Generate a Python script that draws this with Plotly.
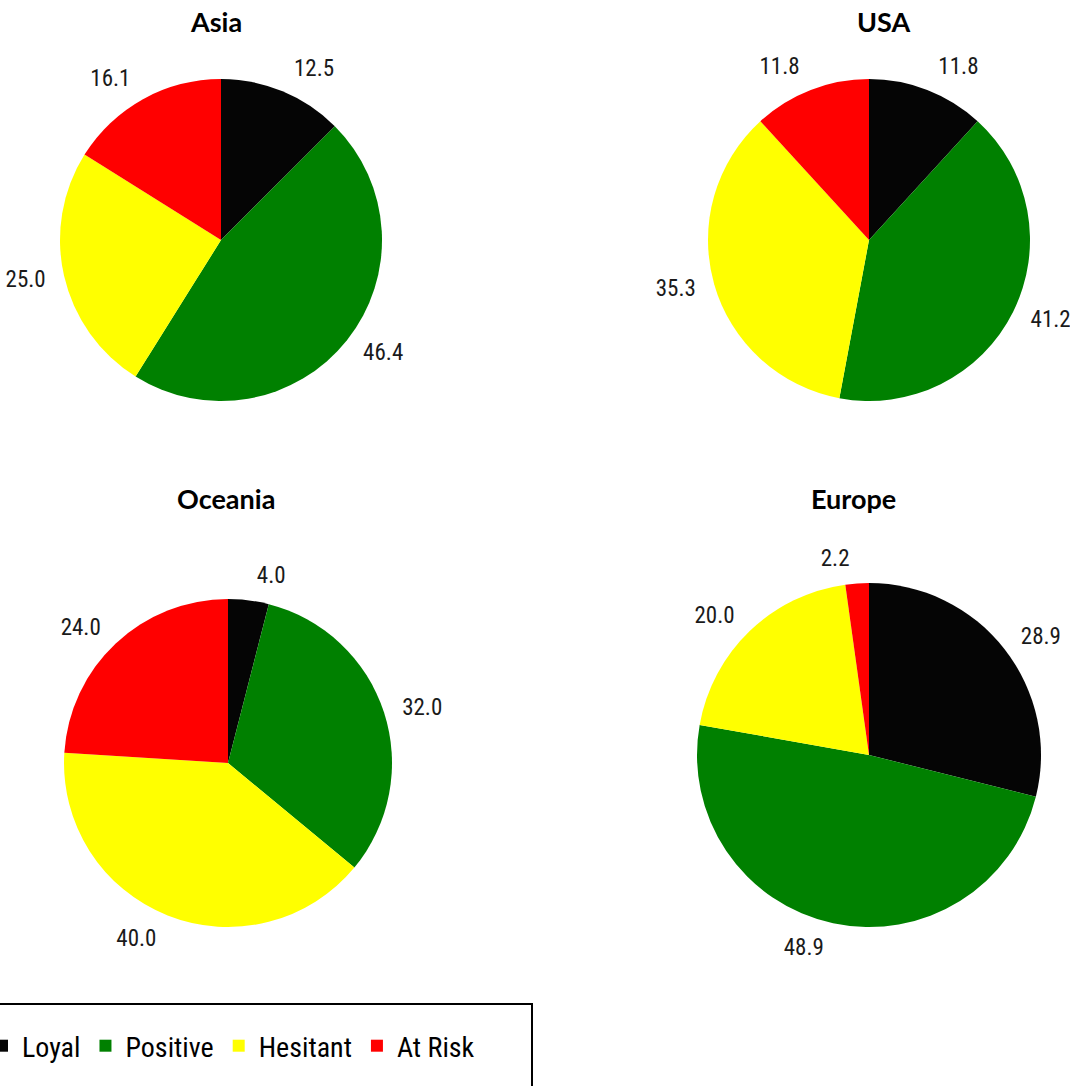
import plotly.graph_objects as go

categories = ["Loyal", "Positive", "Hesitant", "At Risk"]
regions = ["Asia", "USA", "Oceania", "Europe"]
asia = [12.5, 46.4, 25.0, 16.1]
usa = [11.8, 41.2, 35.3, 11.8]
oceania = [4.0, 32.0, 40.0, 24.0]
europe = [28.9, 48.9, 20.0, 2.2]
series = [asia, usa, oceania, europe]
colors = ["#050505", "#008000", "#FFFF00", "#FF0000"]

W, H = 1070, 1086
# pie centre (px) and radius (px), title position (px)
geom = {
    "Asia": (221, 240, 161, 216, 21),
    "USA": (869, 240, 161, 883, 21),
    "Oceania": (228, 763, 164, 226, 498),
    "Europe": (869, 755, 172, 853, 498),
}
LABEL_GAP = 12  # extra radial distance of the value labels

LABEL_FONT = "Liberation Sans Narrow, Arial Narrow, Roboto Condensed, Roboto, sans-serif"
TITLE_FONT = "Lato, Open Sans, sans-serif"


def dom(cx, cy, r):
    return dict(x=[(cx - r) / W, (cx + r) / W], y=[1 - (cy + r) / H, 1 - (cy - r) / H])


fig = go.Figure()
annotations = []
for i, (name, vals) in enumerate(zip(regions, series)):
    cx, cy, r, tx, ty = geom[name]
    # coloured pie
    fig.add_trace(go.Pie(
        labels=categories, values=vals, sort=False,
        direction="clockwise", rotation=0,
        marker=dict(colors=colors, line=dict(width=0)),
        textinfo="none",
        hovertemplate="%{label}: %{value:.1f}<extra>" + name + "</extra>",
        showlegend=(i == 0),
        domain=dom(cx, cy, r),
    ))
    # transparent companion pie carrying the outside value labels
    fig.add_trace(go.Pie(
        labels=categories, values=vals, sort=False,
        direction="clockwise", rotation=0,
        marker=dict(colors=["rgba(0,0,0,0)"] * len(vals), line=dict(width=0)),
        textposition="outside",
        texttemplate="%{value:.1f}",
        textfont=dict(family=LABEL_FONT, size=23, color="#1a1a1a"),
        hoverinfo="skip",
        showlegend=False,
        domain=dom(cx, cy, r + LABEL_GAP),
    ))
    annotations.append(dict(
        text="<b>" + name + "</b>", x=tx / W, y=1 - ty / H, xref="paper", yref="paper",
        showarrow=False, xanchor="center", yanchor="middle",
        font=dict(family=TITLE_FONT, size=27, color="#000000"),
    ))

fig.update_layout(
    width=W, height=H,
    margin=dict(l=0, r=0, t=0, b=0, autoexpand=False),
    paper_bgcolor="white", plot_bgcolor="white",
    annotations=annotations,
    legend=dict(
        orientation="h", x=-18 / W, xanchor="left", y=40 / H, yanchor="middle",
        font=dict(family=LABEL_FONT, size=28, color="#000000"),
        bgcolor="rgba(0,0,0,0)", borderwidth=0, itemclick=False,
        traceorder="normal",
    ),
    shapes=[dict(type="rect", xref="paper", yref="paper",
                 x0=-20 / W, x1=532 / W, y0=-20 / H, y1=1 - 1004 / H,
                 line=dict(color="#000000", width=2), fillcolor="rgba(0,0,0,0)")],
)

fig.write_html("out.html")
